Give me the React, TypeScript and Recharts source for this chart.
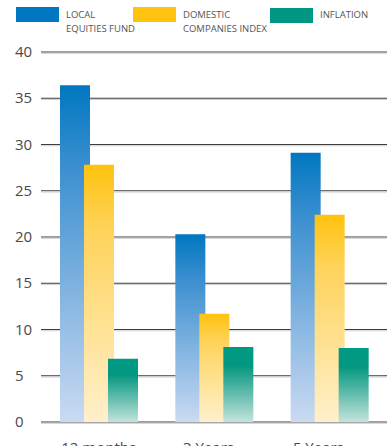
import { Bar, BarChart, CartesianGrid, XAxis, YAxis } from "recharts";

const periods = ["12 months", "3 Years", "5 Years"];
const equitiesFund = [36.4, 20.3, 29.1];
const domesticIndex = [27.8, 11.7, 22.4];
const inflation = [6.85, 8.1, 8.0];
const yTicks = [0, 5, 10, 15, 20, 25, 30, 35, 40];

const series = [
  { key: "fund", label: ["LOCAL", "EQUITIES FUND"], color: "#0078c1", top: "#0077c0", mid: "#3d90d0", bottom: "#cbdaf2", legendX: 16 },
  { key: "index", label: ["DOMESTIC", "COMPANIES INDEX"], color: "#ffc20e", top: "#ffc20e", mid: "#fed35a", bottom: "#fff0cc", legendX: 133 },
  { key: "inflation", label: ["INFLATION"], color: "#009681", top: "#009a84", mid: "#03977f", bottom: "#c3e3dc", legendX: 270 },
];

const data = periods.map((p, i) => ({
  period: p,
  fund: equitiesFund[i],
  index: domesticIndex[i],
  inflation: inflation[i],
}));

const font = "'Open Sans', sans-serif";

function YTick({ y, payload }: any) {
  return (
    <text x={15} y={y} dy={5} fontSize={15} fill="#4a4a4a" fontFamily={font} textAnchor="start">
      {payload.value}
    </text>
  );
}

function XTick({ x, y, payload, index }: any) {
  return (
    <text x={x - index * 5.5} y={y} dy={23} fontSize={15} fill="#4a4a4a" fontFamily={font} textAnchor="middle">
      {payload.value}
    </text>
  );
}

function GridLine({ x1, x2, y1 }: any) {
  return (
    <g>
      <line x1={x1} x2={x2} y1={y1} y2={y1} stroke="#3c3c3c" strokeWidth={1.2} />
      <line x1={x1} x2={x2} y1={y1 + 1.3} y2={y1 + 1.3} stroke="#cfcfcf" strokeWidth={1} />
    </g>
  );
}

export default function App() {
  return (
    <div style={{ position: "absolute", left: 0, top: 0, width: 391, height: 446, background: "#fff", overflow: "hidden" }}>
      {series.map((s) => (
        <div key={s.key}>
          <div
            style={{ position: "absolute", left: s.legendX, top: s.key === "inflation" ? 8 : 7, width: 43, height: 15, background: s.color }}
          />
          <div
            style={{
              position: "absolute",
              left: s.legendX + 50,
              top: 8,
              fontFamily: font,
              fontSize: 9.5,
              lineHeight: "14px",
              color: "#555",
              whiteSpace: "nowrap",
            }}
          >
            {s.label.map((l) => (
              <div key={l}>{l}</div>
            ))}
          </div>
        </div>
      ))}
      <BarChart
        width={391}
        height={446}
        data={data}
        margin={{ top: 52, right: 4, bottom: 0, left: 0 }}
        barSize={30}
        barGap={-6}
      >
        <defs>
          {series.map((s) => (
            <linearGradient key={s.key} id={`grad-${s.key}`} x1="0" y1="0" x2="0" y2="1">
              <stop offset="0%" stopColor={s.top} />
              <stop offset="25%" stopColor={s.mid} />
              <stop offset="100%" stopColor={s.bottom} />
            </linearGradient>
          ))}
        </defs>
        <CartesianGrid vertical={false} horizontal={(p: any) => <GridLine key={p.key ?? p.index} {...p} />} />
        <YAxis
          width={41}
          domain={[0, 40]}
          ticks={yTicks}
          axisLine={false}
          tickLine={false}
          tick={<YTick />}
          interval={0}
        />
        <XAxis dataKey="period" height={24} axisLine={false} tickLine={false} tick={<XTick />} interval={0} />
        {series.map((s) => (
          <Bar key={s.key} dataKey={s.key} fill={`url(#grad-${s.key})`} isAnimationActive={false} />
        ))}
      </BarChart>
    </div>
  );
}
